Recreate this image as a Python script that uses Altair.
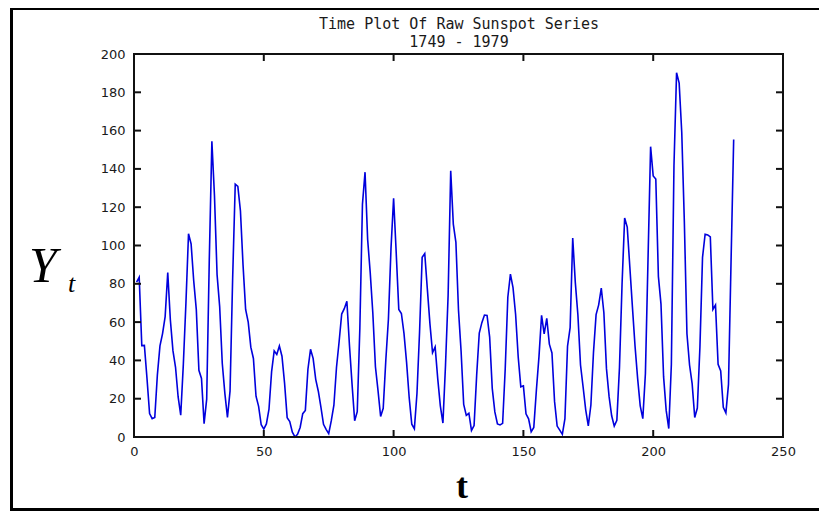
import altair as alt
import pandas as pd

# Yearly sunspot numbers 1749-1979 (t = 1..231)
sunspots = [
    80.9, 83.4, 47.7, 47.8, 30.7, 12.2, 9.6, 10.2, 32.4, 47.6,
    54.0, 62.9, 85.9, 61.2, 45.1, 36.4, 20.9, 11.4, 37.8, 69.8,
    106.1, 100.8, 81.6, 66.5, 34.8, 30.6, 7.0, 19.8, 92.5, 154.4,
    125.9, 84.8, 68.1, 38.5, 22.8, 10.2, 24.1, 82.9, 132.0, 130.9,
    118.1, 89.9, 66.6, 60.0, 46.9, 41.0, 21.3, 16.0, 6.4, 4.1,
    6.8, 14.5, 34.0, 45.0, 43.1, 47.5, 42.2, 28.1, 10.1, 8.1,
    2.5, 0.0, 1.4, 5.0, 12.2, 13.9, 35.4, 45.8, 41.1, 30.1,
    23.9, 15.6, 6.6, 4.0, 1.8, 8.5, 16.6, 36.3, 49.6, 64.2,
    67.0, 70.9, 47.8, 27.5, 8.5, 13.2, 56.9, 121.5, 138.3, 103.2,
    85.7, 64.6, 36.7, 24.2, 10.7, 15.0, 40.1, 61.5, 98.5, 124.7,
    96.3, 66.6, 64.5, 54.1, 39.0, 20.6, 6.7, 4.3, 22.7, 54.8,
    93.8, 95.8, 77.2, 59.1, 44.0, 47.0, 30.5, 16.3, 7.3, 37.6,
    74.0, 139.0, 111.2, 101.6, 66.2, 44.7, 17.0, 11.3, 12.4, 3.4,
    6.0, 32.3, 54.3, 59.7, 63.7, 63.5, 52.2, 25.4, 13.1, 6.8,
    6.3, 7.1, 35.6, 73.0, 85.1, 78.0, 64.0, 41.8, 26.2, 26.7,
    12.1, 9.5, 2.7, 5.0, 24.4, 42.0, 63.5, 53.8, 62.0, 48.5,
    43.9, 18.6, 5.7, 3.6, 1.4, 9.6, 47.4, 57.1, 103.9, 80.6,
    63.6, 37.6, 26.1, 14.2, 5.8, 16.7, 44.3, 63.9, 69.0, 77.8,
    64.9, 35.7, 21.2, 11.1, 5.7, 8.7, 36.1, 79.7, 114.4, 109.6,
    88.8, 67.8, 47.5, 30.6, 16.3, 9.6, 33.2, 92.6, 151.6, 136.3,
    134.7, 83.9, 69.4, 31.5, 13.9, 4.4, 38.0, 141.7, 190.2, 184.8,
    159.0, 112.3, 53.9, 37.6, 27.9, 10.2, 15.1, 47.0, 93.8, 105.9,
    105.5, 104.5, 66.6, 68.9, 38.0, 34.5, 15.5, 12.6, 27.5, 92.5,
    155.4,
]
t_index = list(range(1, len(sunspots) + 1))

x_ticks = [0, 50, 100, 150, 200, 250]
y_ticks = [0, 20, 40, 60, 80, 100, 120, 140, 160, 180, 200]

title_lines = ["Time Plot Of Raw Sunspot Series", "1749 - 1979"]

W, H = 649, 383

df = pd.DataFrame({"t": t_index, "Y": sunspots})
dfx = pd.DataFrame({"t": x_ticks})
dfy = pd.DataFrame({"Y": y_ticks})
one = pd.DataFrame({"k": [0]})

LBL_FONT = "DejaVu Sans"
INK = "#111111"
xscale = alt.Scale(domain=[0, 250], nice=False, zero=False)
yscale = alt.Scale(domain=[0, 200], nice=False, zero=False)
xaxis = alt.Axis(values=x_ticks, ticks=False, domain=False, grid=False,
                 labelPadding=8, labelFont=LBL_FONT, labelFontSize=13,
                 labelColor="#1a1a1a", labelFlush=False, title=None)
yaxis = alt.Axis(values=y_ticks, ticks=False, domain=False, grid=False,
                 labelPadding=9, labelFont=LBL_FONT, labelFontSize=13,
                 labelColor="#1a1a1a", labelFlush=False, title=None)

line = alt.Chart(df).mark_line(color="#0000dd", strokeWidth=1.6).encode(
    x=alt.X("t:Q", scale=xscale, axis=xaxis),
    y=alt.Y("Y:Q", scale=yscale, axis=yaxis),
)

# inward ticks as filled tick marks
TL = 7
bt = alt.Chart(dfx).mark_tick(color=INK, thickness=2, size=TL, orient="vertical",
                              opacity=1, filled=True).encode(
    x=alt.X("t:Q", scale=xscale, axis=xaxis), y=alt.value(H - TL / 2))
tt = alt.Chart(dfx).mark_tick(color=INK, thickness=2, size=TL, orient="vertical",
                              opacity=1, filled=True).encode(
    x=alt.X("t:Q", scale=xscale, axis=xaxis), y=alt.value(TL / 2))
lt = alt.Chart(dfy).mark_tick(color=INK, thickness=2, size=TL, orient="horizontal",
                              opacity=1, filled=True).encode(
    y=alt.Y("Y:Q", scale=yscale, axis=yaxis), x=alt.value(TL / 2))
rt = alt.Chart(dfy).mark_tick(color=INK, thickness=2, size=TL, orient="horizontal",
                              opacity=1, filled=True).encode(
    y=alt.Y("Y:Q", scale=yscale, axis=yaxis), x=alt.value(W - TL / 2))

# plot box as thin filled rectangles
def bar(x1, x2, y1, y2):
    return alt.Chart(one).mark_rect(color=INK, opacity=1).encode(
        x=alt.value(x1), x2=alt.value(x2), y=alt.value(y1), y2=alt.value(y2))

box_l = bar(-1, 1, -1, H + 1)
box_r = bar(W - 1, W + 1, -1, H + 1)
box_t = bar(-1, W + 1, -1, 1)
box_b = bar(-1, W + 1, H - 1, H + 1)

t1 = alt.Chart(one).mark_text(font="DejaVu Sans Mono", fontSize=15, color="#1a1a1a",
                              align="center", baseline="middle").encode(
    x=alt.value(325), y=alt.value(-30), text=alt.value(title_lines[0]))
t2 = alt.Chart(one).mark_text(font="DejaVu Sans Mono", fontSize=15, color="#1a1a1a",
                              align="center", baseline="middle").encode(
    x=alt.value(325), y=alt.value(-12), text=alt.value(title_lines[1]))

ylab = alt.Chart(one).mark_text(font="Liberation Serif", fontSize=50, fontStyle="italic",
                                color="black", align="center", baseline="alphabetic").encode(
    x=alt.value(-91), y=alt.value(228), text=alt.value("Y"))
ysub = alt.Chart(one).mark_text(font="Liberation Serif", fontSize=26, fontStyle="italic",
                                color="black", align="left", baseline="alphabetic").encode(
    x=alt.value(-66), y=alt.value(238), text=alt.value("t"))
xlab = alt.Chart(one).mark_text(font="Liberation Serif", fontSize=36, fontWeight="bold",
                                color="black", align="center", baseline="alphabetic").encode(
    x=alt.value(328), y=alt.value(444), text=alt.value("t"))

frame_left = alt.Chart(one).mark_rule(color="black", strokeWidth=3).encode(
    x=alt.value(-122.5), y=alt.value(-45), y2=alt.value(457))
frame_top = alt.Chart(one).mark_rule(color="black", strokeWidth=2).encode(
    x=alt.value(-124), x2=alt.value(685), y=alt.value(-45))
frame_bottom = alt.Chart(one).mark_rule(color="black", strokeWidth=3).encode(
    x=alt.value(-124), x2=alt.value(685), y=alt.value(455.5))

chart = alt.layer(
    line, bt, tt, lt, rt, box_l, box_r, box_t, box_b,
    t1, t2, ylab, ysub, xlab, frame_left, frame_top, frame_bottom
).properties(
    width=W, height=H,
    padding={"left": 126, "top": 46, "right": 36, "bottom": 74},
    autosize=alt.AutoSizeParams(type="none"),
    background="white",
).configure_view(stroke=INK, strokeWidth=2)

chart.save("out.html", embed_options={"renderer": "svg", "actions": False})
